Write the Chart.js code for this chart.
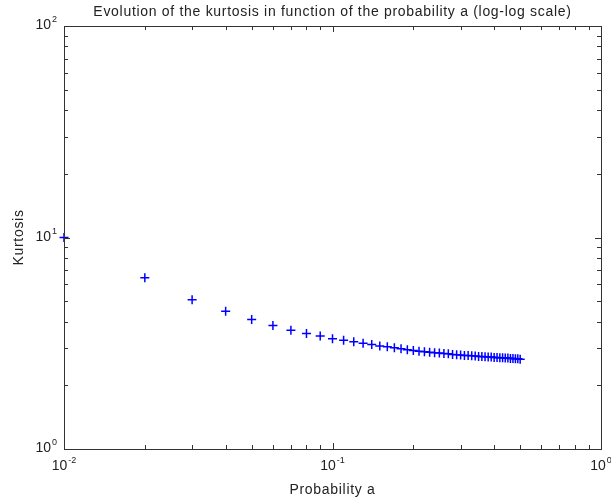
<!DOCTYPE html>
<html>
<head>
<meta charset="utf-8">
<script src="https://cdn.jsdelivr.net/npm/chart.js@4/dist/chart.umd.min.js"></script>
<style>
  html, body { margin: 0; padding: 0; background: #fff; }
  #wrap { width: 611px; height: 504px; }
</style>
</head>
<body>
<div id="wrap"><canvas id="chart" width="611" height="504"></canvas></div>
<script>
// probability a (x) and kurtosis (y)
const probA = [
  0.01, 0.02, 0.03, 0.04, 0.05, 0.06, 0.07, 0.08, 0.09, 0.10,
  0.11, 0.12, 0.13, 0.14, 0.15, 0.16, 0.17, 0.18, 0.19, 0.20,
  0.21, 0.22, 0.23, 0.24, 0.25, 0.26, 0.27, 0.28, 0.29, 0.30,
  0.31, 0.32, 0.33, 0.34, 0.35, 0.36, 0.37, 0.38, 0.39, 0.40,
  0.41, 0.42, 0.43, 0.44, 0.45, 0.46, 0.47, 0.48, 0.49, 0.50
];
const kurtosis = [
  10.0, 6.45, 5.08, 4.48, 4.10, 3.84, 3.64, 3.52, 3.42, 3.32,
  3.27, 3.21, 3.16, 3.12, 3.07, 3.04, 3.01, 2.98, 2.95, 2.92,
  2.90, 2.88, 2.87, 2.85, 2.84, 2.83, 2.82, 2.80, 2.79, 2.78,
  2.77, 2.77, 2.76, 2.75, 2.74, 2.74, 2.73, 2.72, 2.72, 2.71,
  2.71, 2.70, 2.70, 2.69, 2.69, 2.68, 2.68, 2.67, 2.67, 2.66
];
const xDecades = [0.01, 0.1, 1];
const xTickExp = ['-2', '-1', '0'];
const yDecades = [1, 10, 100];
const yTickExp = ['0', '1', '2'];

const FONT = '"Liberation Sans", Arial, Helvetica, sans-serif';

function drawPow(ctx, exp, x, y, align) {
  ctx.letterSpacing = '0px';
  ctx.font = '14px ' + FONT;
  const wb = ctx.measureText('10').width;
  ctx.font = '9px ' + FONT;
  const we = ctx.measureText(exp).width;
  const total = wb + we + 1;
  let start = x - total / 2;
  if (align === 'right') start = x - total;
  ctx.textAlign = 'left';
  ctx.textBaseline = 'alphabetic';
  ctx.font = '14px ' + FONT;
  ctx.fillText('10', start, y);
  ctx.font = '9px ' + FONT;
  ctx.fillText(exp, start + wb + 1, y - 7);
}

// MATLAB-like box, inside ticks, power labels and titles
const boxPlugin = {
  id: 'box',
  afterDraw(chart) {
    const ctx = chart.ctx;
    const a = chart.chartArea;
    const xs = chart.scales.x;
    const ys = chart.scales.y;
    ctx.save();
    ctx.strokeStyle = '#333';
    ctx.lineWidth = 1;
    ctx.strokeRect(Math.round(a.left) + 0.5, Math.round(a.top) + 0.5,
      Math.round(a.right - a.left), Math.round(a.bottom - a.top));

    ctx.beginPath();
    xDecades.forEach((d, i) => {
      for (let m = 1; m <= 9; m++) {
        if (i === xDecades.length - 1 && m > 1) break;
        const px = Math.round(xs.getPixelForValue(d * m)) + 0.5;
        const len = m === 1 ? 6 : 4;
        ctx.moveTo(px, a.bottom); ctx.lineTo(px, a.bottom - len);
        ctx.moveTo(px, a.top); ctx.lineTo(px, a.top + len);
      }
    });
    yDecades.forEach((d, i) => {
      for (let m = 1; m <= 9; m++) {
        if (i === yDecades.length - 1 && m > 1) break;
        const py = Math.round(ys.getPixelForValue(d * m)) + 0.5;
        const len = m === 1 ? 6 : 4;
        ctx.moveTo(a.left, py); ctx.lineTo(a.left + len, py);
        ctx.moveTo(a.right, py); ctx.lineTo(a.right - len, py);
      }
    });
    ctx.stroke();

    ctx.fillStyle = '#222';
    xDecades.forEach((d, i) => {
      drawPow(ctx, xTickExp[i], xs.getPixelForValue(d), a.bottom + 21, 'center');
    });
    yDecades.forEach((d, i) => {
      drawPow(ctx, yTickExp[i], a.left - 7, ys.getPixelForValue(d) + 3, 'right');
    });

    ctx.font = '14px ' + FONT;
    ctx.letterSpacing = '0.7px';
    ctx.textAlign = 'center';
    ctx.textBaseline = 'alphabetic';
    const cx = (a.left + a.right) / 2;
    ctx.fillText('Evolution of the kurtosis in function of the probability a (log-log scale)', cx, 16);
    ctx.fillText('Probability a', cx, 494);
    ctx.translate(23, (a.top + a.bottom) / 2);
    ctx.rotate(-Math.PI / 2);
    ctx.fillText('Kurtosis', 0, 0);
    ctx.restore();
  }
};

new Chart(document.getElementById('chart').getContext('2d'), {
  type: 'scatter',
  data: {
    datasets: [{
      label: 'kurtosis',
      data: probA.map((a, i) => ({ x: a, y: kurtosis[i] })),
      pointStyle: 'cross',
      pointRadius: 4.5,
      borderColor: '#0000ff',
      backgroundColor: '#0000ff',
      borderWidth: 1.5,
      clip: false
    }]
  },
  options: {
    responsive: false,
    animation: false,
    layout: { padding: { left: 64, right: 10, top: 26, bottom: 55 } },
    scales: {
      x: { type: 'logarithmic', min: 0.01, max: 1, display: false },
      y: { type: 'logarithmic', min: 1, max: 100, display: false }
    },
    plugins: {
      legend: { display: false },
      tooltip: { enabled: false }
    }
  },
  plugins: [boxPlugin]
});
</script>
</body>
</html>
